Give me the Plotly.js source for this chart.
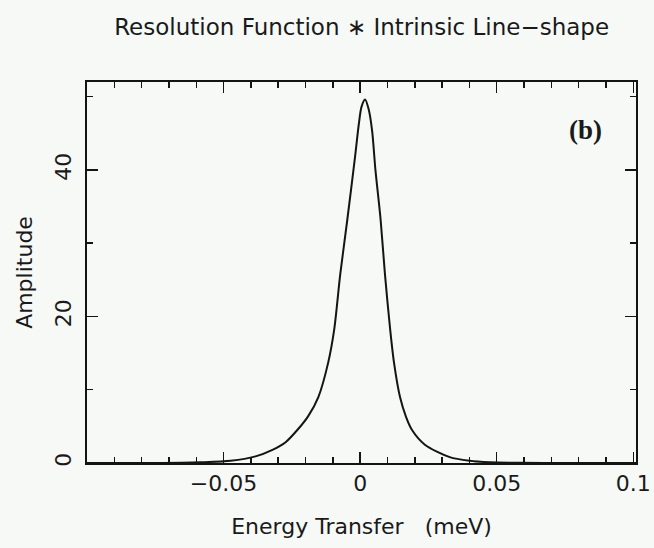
<!DOCTYPE html>
<html>
<head>
<meta charset="utf-8">
<script src="https://cdn.plot.ly/plotly-3.0.1.min.js"></script>
<style>html,body{margin:0;padding:0;background:#f6f9f6;}</style>
</head>
<body>
<div id="chart" style="width:654px;height:548px;"></div>
<script>
// Energy transfer (meV)
const energy = [-0.1, -0.075, -0.0584, -0.0474, -0.0383, -0.0321, -0.0274, -0.0230, -0.0190, -0.0153, -0.0117, -0.0095, -0.0073, -0.0047, -0.0018, -0.0005, 0.0005, 0.0018, 0.0031, 0.0044, 0.0056, 0.0075, 0.0091, 0.0110, 0.0124, 0.0146, 0.0168, 0.0190, 0.0237, 0.0328, 0.0401, 0.0474, 0.0584, 0.075, 0.101];
// Amplitude
const amplitude = [0.0, 0.0, 0.1, 0.3, 0.9, 1.8, 2.8, 4.5, 6.4, 9.0, 13.7, 18.2, 25.7, 33.2, 42.0, 46.2, 48.6, 49.6, 48.3, 45.3, 40.0, 33.2, 25.7, 18.2, 13.7, 9.0, 6.3, 4.5, 2.5, 0.8, 0.3, 0.1, 0.02, 0.0, 0.0];
const xTickVals = [-0.05, 0, 0.05, 0.1];
const xTickText = ["\u22120.05", "0", "0.05", "0.1"];
const yTickVals = [0, 20, 40];
const yTickText = ["0", "20", "40"];

const font = {family: "DejaVu Sans", color: "#1a1a1a"};
const trace = {
  x: energy, y: amplitude, type: "scatter", mode: "lines",
  line: {color: "#141414", width: 2, shape: "spline", smoothing: 0.8},
  hoverinfo: "skip"
};
const layout = {
  width: 654, height: 548,
  paper_bgcolor: "#f6f9f6", plot_bgcolor: "#f6f9f6",
  margin: {l: 86.5, r: 17.5, t: 82, b: 85},
  showlegend: false,
  title: {text: "Resolution Function \u2217 Intrinsic Line\u2212shape", font: Object.assign({size: 23}, font), x: 0.553, xanchor: "center", y: 0.95, yanchor: "middle"},
  xaxis: {
    range: [-0.1, 0.101], showgrid: false, zeroline: false,
    showline: true, linecolor: "#141414", linewidth: 2, mirror: "allticks",
    ticks: "inside", ticklen: 11, tickwidth: 1.5, tickcolor: "#141414",
    tickvals: xTickVals, ticktext: xTickText,
    tickfont: Object.assign({size: 22}, font),
    minor: {dtick: 0.01, tick0: 0, ticks: "inside", ticklen: 6, tickwidth: 1.5, tickcolor: "#141414"},
    title: {text: "Energy Transfer\u00a0\u00a0\u00a0(meV)", font: Object.assign({size: 22}, font), standoff: 23}
  },
  yaxis: {
    range: [0, 52], showgrid: false, zeroline: false,
    showline: true, linecolor: "#141414", linewidth: 2, mirror: "allticks",
    ticks: "inside", ticklen: 11, tickwidth: 1.5, tickcolor: "#141414",
    tickvals: yTickVals, ticktext: yTickText, tickangle: -90, ticklabelstandoff: 5,
    tickfont: Object.assign({size: 22}, font),
    minor: {dtick: 10, tick0: 0, ticks: "inside", ticklen: 6, tickwidth: 1.5, tickcolor: "#141414"},
    title: {text: "Amplitude", font: Object.assign({size: 22}, font), standoff: 13}
  },
  annotations: [{
    text: "<b>(b)</b>", xref: "paper", yref: "paper", x: 0.908, y: 0.875,
    xanchor: "center", yanchor: "middle", showarrow: false,
    font: {family: "Liberation Serif", size: 27, color: "#1a1a1a"}
  }]
};
Plotly.newPlot("chart", [trace], layout, {displayModeBar: false, staticPlot: true});
</script>
</body>
</html>
